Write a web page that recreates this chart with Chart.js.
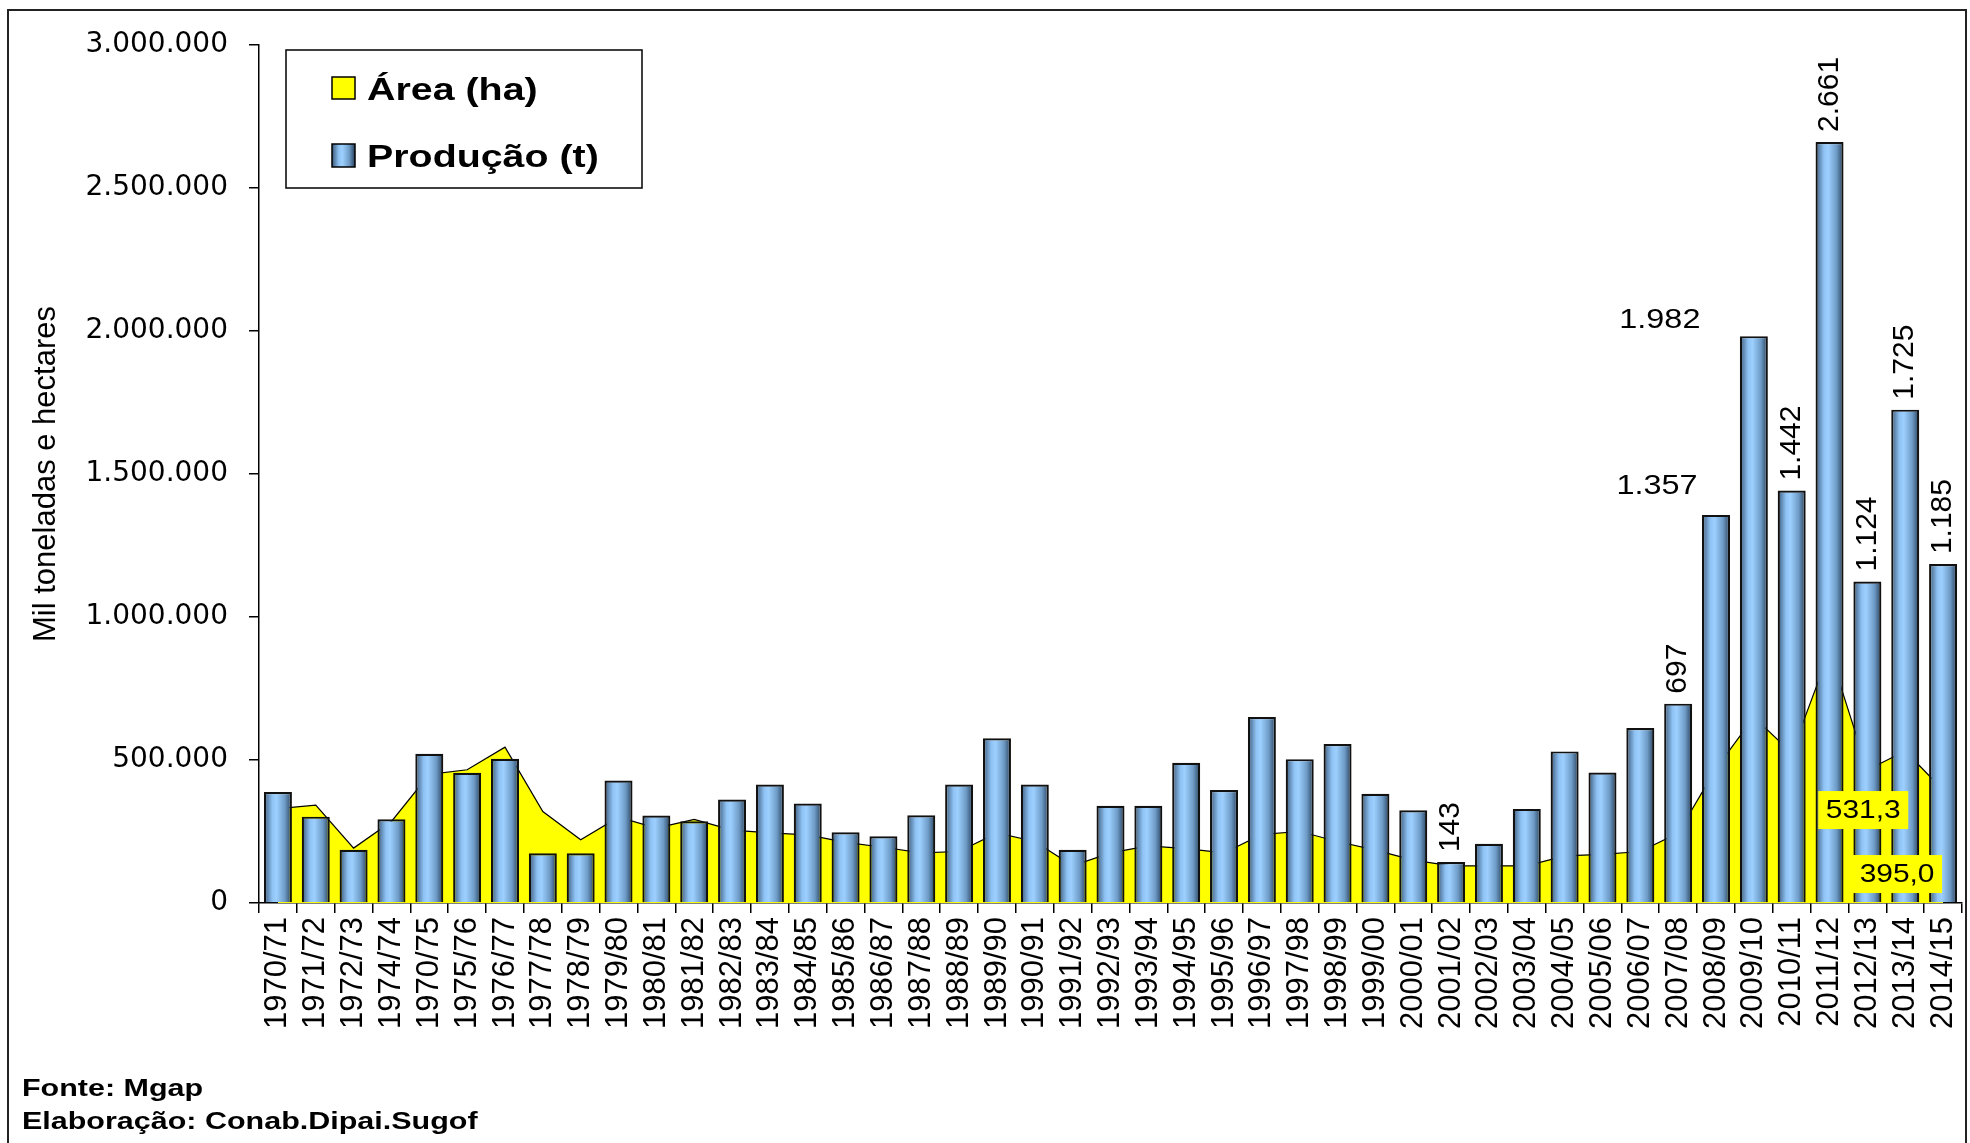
<!DOCTYPE html>
<html>
<head>
<meta charset="utf-8">
<script src="https://cdn.jsdelivr.net/npm/chart.js@4.4.1/dist/chart.umd.min.js"></script>
<style>
  html, body { margin: 0; padding: 0; background: #fff; overflow: hidden; }
  canvas { display: block; }
</style>
</head>
<body>
<canvas id="grafico" width="1970" height="1143"></canvas>
<script>
// safras
const labels = [
    '1970/71', '1971/72', '1972/73', '1974/74', '1970/75', '1975/76', '1976/77', '1977/78', '1978/79', '1979/80',
    '1980/81', '1981/82', '1982/83', '1983/84', '1984/85', '1985/86', '1986/87', '1987/88', '1988/89', '1989/90',
    '1990/91', '1991/92', '1992/93', '1993/94', '1994/95', '1995/96', '1996/97', '1997/98', '1998/99', '1999/00',
    '2000/01', '2001/02', '2002/03', '2003/04', '2004/05', '2005/06', '2006/07', '2007/08', '2008/09', '2009/10',
    '2010/11', '2011/12', '2012/13', '2013/14', '2014/15'
];
// producao (t)
const producao = [
    388000, 302000, 186000, 293000, 522000, 455000, 504000, 174000, 174000, 428000,
    306000, 286000, 362000, 414000, 348000, 247000, 233000, 307000, 414000, 576000,
    414000, 186000, 340000, 340000, 490000, 395000, 650000, 503000, 556000, 382000,
    324000, 143000, 207000, 329000, 530000, 456000, 612000, 697000, 1357000, 1982000,
    1442000, 2661000, 1124000, 1725000, 1185000
];
// area (ha)
const area = [
    330000, 342000, 192000, 285000, 450000, 466000, 545000, 320000, 221000, 300000,
    262000, 292000, 255000, 245000, 238000, 212000, 195000, 175000, 180000, 245000,
    215000, 130000, 175000, 200000, 190000, 175000, 240000, 250000, 215000, 185000,
    150000, 130000, 130000, 130000, 165000, 170000, 180000, 245000, 470000, 650000,
    525000, 880000, 465000, 531300, 395000
];
const yTicks = [0, 500000, 1000000, 1500000, 2000000, 2500000, 3000000];

// rotulos de dados
const barLabelIdx = [31, 37, 38, 39, 40, 41, 42, 43, 44];
const barLabelFlat = { 38: [-59, -28], 39: [-94, -16] };
const areaLabelIdx = { 43: [-42, 59], 44: [-46, 84] };

const BAR_FRAC = 0.74;

function fmtMil(v) {
    return String(v).replace(/\B(?=(\d{3})+(?!\d))/g, '.');
}

function blueGrad(ctx, x0, x1) {
    const g = ctx.createLinearGradient(x0, 0, x1, 0);
    g.addColorStop(0, '#3a5878');
    g.addColorStop(0.3, '#8fc3f5');
    g.addColorStop(0.45, '#9dd0ff');
    g.addColorStop(0.75, '#6e9bc6');
    g.addColorStop(1, '#263f5a');
    return g;
}

function barColor(c) {
    const chart = c.chart;
    const xs = chart.scales.x;
    if (!xs || c.dataIndex === undefined || !chart.chartArea) return '#99ccff';
    const cx = xs.getPixelForValue(c.dataIndex);
    const w = xs.width / labels.length * BAR_FRAC;
    return blueGrad(chart.ctx, cx - w / 2, cx + w / 2);
}

function stretchText(ctx, txt, x, y, sx, align) {
    ctx.save();
    ctx.translate(x, y);
    ctx.scale(sx, 1);
    ctx.textAlign = align || 'left';
    ctx.fillText(txt, 0, 0);
    ctx.restore();
}

const extras = {
    id: 'extras',
    afterDraw(chart) {
        const ctx = chart.ctx;
        ctx.save();

        // moldura externa
        ctx.strokeStyle = '#222';
        ctx.lineWidth = 2;
        ctx.beginPath();
        ctx.moveTo(8, 1143);
        ctx.lineTo(8, 10);
        ctx.lineTo(1966, 10);
        ctx.lineTo(1966, 1143);
        ctx.stroke();

        // legenda
        ctx.fillStyle = '#fff';
        ctx.fillRect(286, 50, 356, 138);
        ctx.strokeStyle = '#000';
        ctx.lineWidth = 1.5;
        ctx.strokeRect(286, 50, 356, 138);
        const ds = chart.data.datasets;
        ctx.fillStyle = ds[0].backgroundColor;
        ctx.fillRect(332, 77, 23, 22);
        ctx.strokeRect(332, 77, 23, 22);
        ctx.fillStyle = blueGrad(ctx, 332, 355);
        ctx.fillRect(332, 144, 23, 23);
        ctx.strokeRect(332, 144, 23, 23);
        ctx.fillStyle = '#000';
        ctx.textBaseline = 'alphabetic';
        ctx.font = 'bold 31px "Liberation Sans", Arial, sans-serif';
        stretchText(ctx, ds[0].label, 367, 100, 1.27);
        stretchText(ctx, ds[1].label, 367, 167, 1.27);

        // rotulos das barras
        const barMeta = chart.getDatasetMeta(1);
        barLabelIdx.forEach(i => {
            const el = barMeta.data[i];
            const txt = fmtMil(Math.round(producao[i] / 1000));
            ctx.fillStyle = '#000';
            if (barLabelFlat[i]) {
                const [dx, dy] = barLabelFlat[i];
                ctx.font = '27px "Liberation Sans", Arial, sans-serif';
                ctx.textBaseline = 'middle';
                stretchText(ctx, txt, el.x + dx, el.y + dy, 1.2, 'center');
            } else {
                ctx.save();
                ctx.translate(el.x, el.y - 10);
                ctx.rotate(-Math.PI / 2);
                ctx.font = '30px "Liberation Sans", Arial, sans-serif';
                ctx.textAlign = 'left';
                ctx.textBaseline = 'middle';
                ctx.fillText(txt, 0, 0);
                ctx.restore();
            }
        });

        // rotulos da area
        const areaMeta = chart.getDatasetMeta(0);
        Object.keys(areaLabelIdx).forEach(k => {
            const i = +k;
            const pt = areaMeta.data[i];
            const [dx, dy] = areaLabelIdx[k];
            const cx = pt.x + dx, cy = pt.y + dy;
            ctx.fillStyle = '#ffff00';
            ctx.fillRect(cx - 45, cy - 19, 90, 38);
            ctx.fillStyle = '#000';
            ctx.font = '26px "Liberation Sans", Arial, sans-serif';
            ctx.textBaseline = 'middle';
            const txt = (area[i] / 1000).toFixed(1).replace('.', ',');
            stretchText(ctx, txt, cx, cy + 1, 1.15, 'center');
        });

        // fonte
        ctx.fillStyle = '#000';
        ctx.font = 'bold 24px "Liberation Sans", Arial, sans-serif';
        ctx.textBaseline = 'alphabetic';
        stretchText(ctx, 'Fonte: Mgap', 22, 1096, 1.27);
        stretchText(ctx, 'Elaboração: Conab.Dipai.Sugof', 22, 1129, 1.27);

        ctx.restore();
    }
};

const config = {
    type: 'bar',
    data: {
        labels: labels,
        datasets: [{
            type: 'line',
            label: 'Área (ha)',
            data: area,
            order: 2,
            fill: 'origin',
            backgroundColor: '#ffff00',
            borderColor: '#000',
            borderWidth: 1.2,
            pointRadius: 0,
            tension: 0,
        }, {
            type: 'bar',
            label: 'Produção (t)',
            data: producao,
            order: 1,
            backgroundColor: barColor,
            borderColor: '#111',
            borderWidth: 2.2,
            categoryPercentage: 1,
            barPercentage: BAR_FRAC,
        }]
    },
    options: {
        responsive: false,
        animation: false,
        devicePixelRatio: 1,
        layout: {
            padding: { top: 45, right: 8, left: 0, bottom: 0 }
        },
        plugins: {
            legend: { display: false },
            tooltip: { enabled: false },
        },
        scales: {
            x: {
                afterFit: s => {
                    s.height = 240;
                    s.paddingLeft = 0;
                    s.paddingRight = 0;
                },
                grid: {
                    drawOnChartArea: false,
                    drawTicks: true,
                    tickLength: 10,
                    color: '#000',
                    lineWidth: 1.5,
                    offset: true,
                },
                border: { display: true, color: '#000', width: 1.5 },
                ticks: {
                    autoSkip: false,
                    minRotation: 90,
                    maxRotation: 90,
                    padding: 4,
                    color: '#000',
                    font: { family: '"Liberation Sans", Arial, sans-serif', size: 31 },
                }
            },
            y: {
                min: 0,
                max: 3000000,
                afterFit: s => { s.width = 259; },
                afterBuildTicks: s => { s.ticks = yTicks.map(v => ({ value: v })); },
                grid: {
                    drawOnChartArea: false,
                    drawTicks: true,
                    tickLength: 10,
                    color: '#000',
                    lineWidth: 1.5,
                },
                border: { display: true, color: '#000', width: 1.5 },
                ticks: {
                    padding: 21,
                    color: '#000',
                    font: { family: '"DejaVu Sans", sans-serif', size: 28 },
                    callback: v => fmtMil(v),
                },
                title: {
                    display: true,
                    text: 'Mil toneladas e hectares',
                    color: '#000',
                    padding: { top: 28, bottom: 0 },
                    font: { family: '"Liberation Sans", Arial, sans-serif', size: 31 },
                }
            }
        }
    },
    plugins: [extras]
};

window.addEventListener('load', function () {
    new Chart(document.getElementById('grafico'), config);
});
</script>
</body>
</html>
